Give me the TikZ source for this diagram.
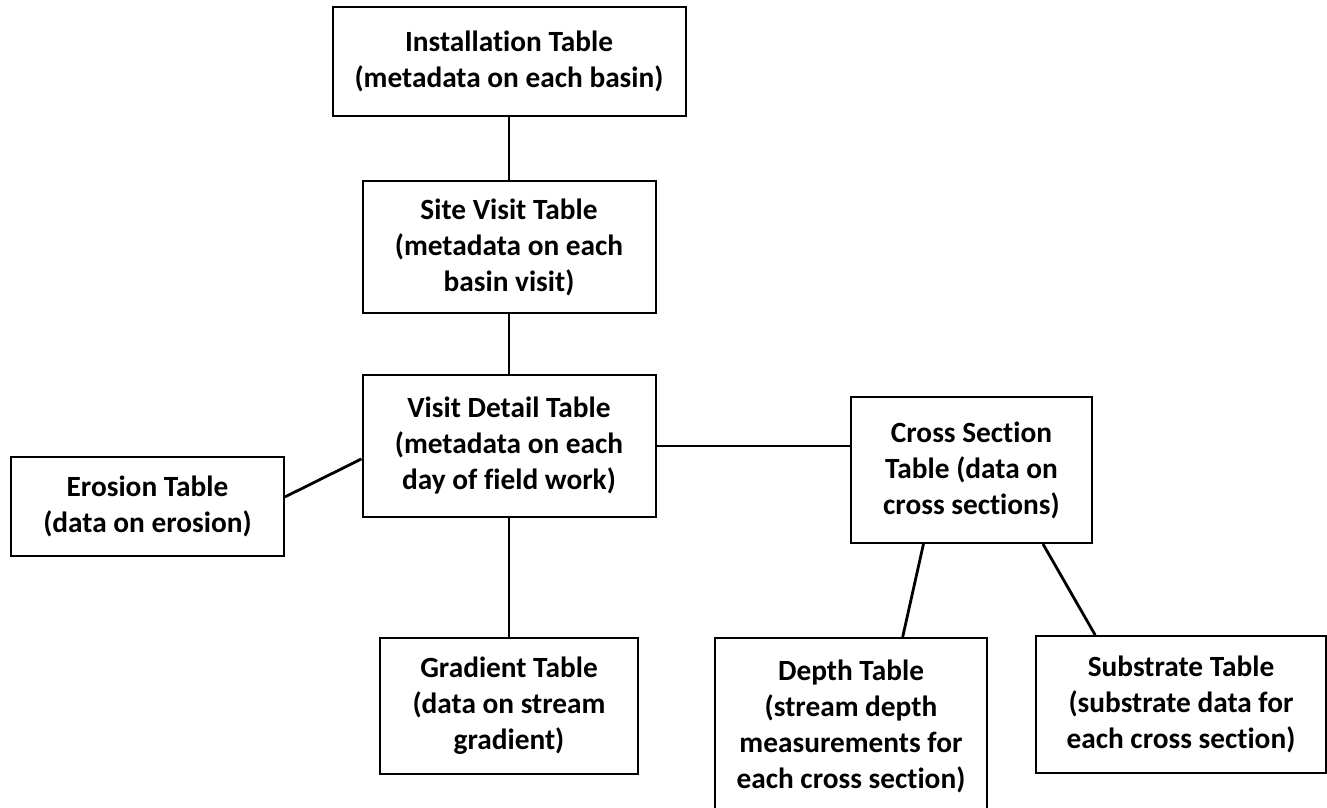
\documentclass[tikz,border=0pt]{standalone}
\usepackage{fontspec}
\setmainfont{Carlito}[Ligatures=NoCommon]

\begin{document}
\begin{tikzpicture}[x=0.75pt, y=-0.75pt,
    tbl/.style={draw, line width=1.5pt, align=center, inner sep=2pt,
      font=\fontsize{22}{27}\selectfont\bfseries},
    link/.style={line width=2.1pt}]
  \useasboundingbox (0,0) rectangle (1327,807);
  % tables
  \node[tbl, minimum width=264.75pt, minimum height=81.75pt] (inst) at (509,61.5)
    {Installation Table\\(metadata on each basin)};
  \node[tbl, minimum width=219.75pt, minimum height=99pt] (site) at (509,247)
    {Site Visit Table\\(metadata on each\\basin visit)};
  \node[tbl, minimum width=219.75pt, minimum height=106.5pt] (vd) at (509,446)
    {Visit Detail Table\\(metadata on each\\day of field work)};
  \node[tbl, minimum width=204.75pt, minimum height=74.25pt] (ero) at (147.5,506.5)
    {Erosion Table\\(data on erosion)};
  \node[tbl, minimum width=180.75pt, minimum height=109.5pt] (cs) at (971.5,470)
    {Cross Section\\Table (data on\\cross sections)};
  \node[tbl, minimum width=193.5pt, minimum height=102pt] (grad) at (509,706)
    {Gradient Table\\(data on stream\\gradient)};
  \node[tbl, minimum width=204pt, minimum height=132.75pt] (dep) at (851,726.5)
    {Depth Table\\(stream depth\\measurements for\\each cross section)};
  \node[tbl, minimum width=217.5pt, minimum height=102.75pt] (sub) at (1181,704.5)
    {Substrate Table\\(substrate data for\\each cross section)};
  % links
  \draw[link] (inst) -- (site);
  \draw[link] (site) -- (vd);
  \draw[link] (vd) -- (grad);
  \draw[link] (vd.185) -- (ero.4);
  \draw[link] (vd.east) -- (vd.east -| cs.west);
  \draw[link] (cs.237) -- (dep.60);
  \draw[link] (cs.314) -- (sub.141);
\end{tikzpicture}
\end{document}
